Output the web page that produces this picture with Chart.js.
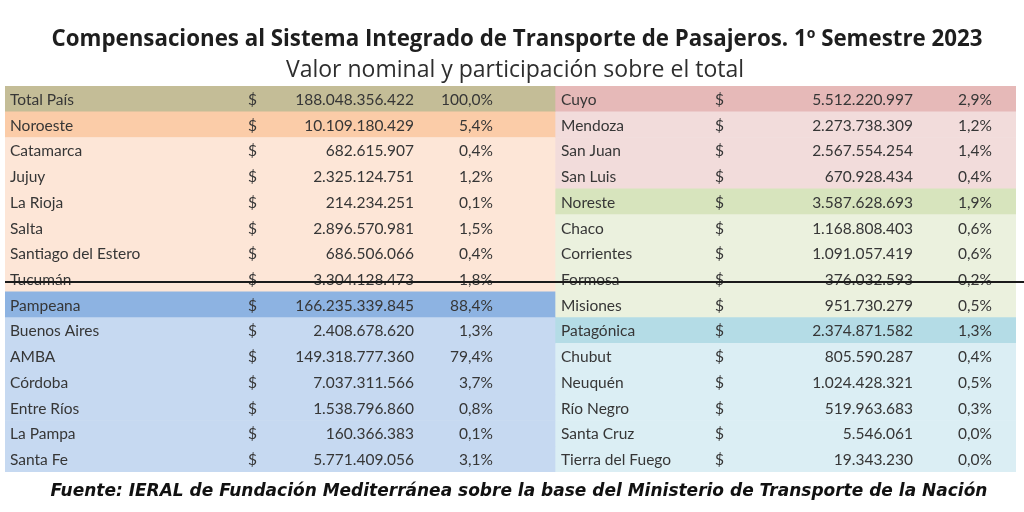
<!DOCTYPE html>
<html>
<head>
<meta charset="utf-8">
<script src="https://cdn.jsdelivr.net/npm/chart.js@4.4.0/dist/chart.umd.min.js"></script>
<style>
  html, body { margin: 0; padding: 0; background: #ffffff; }
  canvas { display: block; }
</style>
</head>
<body>
<canvas id="myChart" width="1024" height="512"></canvas>
<script>
// data
const leftNames = ["Total País", "Noroeste", "Catamarca", "Jujuy", "La Rioja", "Salta",
  "Santiago del Estero", "Tucumán", "Pampeana", "Buenos Aires", "AMBA", "Córdoba",
  "Entre Ríos", "La Pampa", "Santa Fe"];
const leftValues = [188048356422, 10109180429, 682615907, 2325124751, 214234251, 2896570981,
  686506066, 3304128473, 166235339845, 2408678620, 149318777360, 7037311566,
  1538796860, 160366383, 5771409056];
const leftShares = [100.0, 5.4, 0.4, 1.2, 0.1, 1.5, 0.4, 1.8, 88.4, 1.3, 79.4, 3.7, 0.8, 0.1, 3.1];

const rightNames = ["Cuyo", "Mendoza", "San Juan", "San Luis", "Noreste", "Chaco",
  "Corrientes", "Formosa", "Misiones", "Patagónica", "Chubut", "Neuquén", "Río Negro",
  "Santa Cruz", "Tierra del Fuego"];
const rightValues = [5512220997, 2273738309, 2567554254, 670928434, 3587628693, 1168808403,
  1091057419, 376032593, 951730279, 2374871582, 805590287, 1024428321, 519963683,
  5546061, 19343230];
const rightShares = [2.9, 1.2, 1.4, 0.4, 1.9, 0.6, 0.6, 0.2, 0.5, 1.3, 0.4, 0.5, 0.3, 0.0, 0.0];

// styles
const leftColors = ["#c4bd97", "#fbcca8", "#fde6d7", "#fde6d7", "#fde6d7", "#fde6d7",
  "#fde6d7", "#fde6d7", "#8db3e2", "#c6d9f1", "#c6d9f1", "#c6d9f1", "#c6d9f1",
  "#c6d9f1", "#c6d9f1"];
const rightColors = ["#e6b9b8", "#f2dcdb", "#f2dcdb", "#f2dcdb", "#d7e4bd", "#ebf1de",
  "#ebf1de", "#ebf1de", "#ebf1de", "#b4dce6", "#dbeef4", "#dbeef4", "#dbeef4",
  "#dbeef4", "#dbeef4"];

const TABLE_W = 1011;
const SPLIT = 550;
const leftCols = { name: 5, dollar: 243, value: 409, share: 488 };
const rightCols = { name: 556, dollar: 710, value: 908, share: 987 };
const struckRow = 7;

function fmtNum(n) {
  return String(n).replace(/\B(?=(\d{3})+(?!\d))/g, ".");
}
function fmtPct(p) {
  return p.toFixed(1).replace(".", ",") + "%";
}

const rows = leftNames.map((_, i) => i);

const tableText = {
  id: "tableText",
  afterDatasetsDraw(chart) {
    const { ctx, scales: { x, y } } = chart;
    ctx.save();
    ctx.fillStyle = "#363636";
    ctx.font = "15.5px Lato";
    ctx.textBaseline = "middle";
    const drawSide = (names, values, shares, cols) => {
      names.forEach((name, i) => {
        const py = y.getPixelForValue(i) + 1;
        ctx.textAlign = "left";
        ctx.fillText(name, x.getPixelForValue(cols.name), py);
        ctx.fillText("$", x.getPixelForValue(cols.dollar), py);
        ctx.textAlign = "right";
        ctx.fillText(fmtNum(values[i]), x.getPixelForValue(cols.value), py);
        ctx.fillText(fmtPct(shares[i]), x.getPixelForValue(cols.share), py);
      });
    };
    drawSide(leftNames, leftValues, leftShares, leftCols);
    drawSide(rightNames, rightValues, rightShares, rightCols);

    // strike line through the Tucumán / Formosa row
    const sy = y.getPixelForValue(struckRow) + 3;
    ctx.strokeStyle = "#1a1a1a";
    ctx.lineWidth = 2;
    ctx.beginPath();
    ctx.moveTo(x.getPixelForValue(0), sy);
    ctx.lineTo(chart.width, sy);
    ctx.stroke();

    // title, subtitle, source
    ctx.textAlign = "center";
    ctx.fillStyle = "#1e1e1e";
    ctx.font = "bold 22.3px 'Open Sans'";
    ctx.fillText("Compensaciones al Sistema Integrado de Transporte de Pasajeros. 1º Semestre 2023", 517, 40);
    ctx.fillStyle = "#2e2e2e";
    ctx.font = "23px 'Open Sans'";
    ctx.fillText("Valor nominal y participación sobre el total", 515, 70);
    ctx.fillStyle = "#111111";
    ctx.font = "italic bold 17px 'DejaVu Sans'";
    ctx.fillText("Fuente: IERAL de Fundación Mediterránea sobre la base del Ministerio de Transporte de la Nación", 519, 492);
    ctx.restore();
  }
};

const ctx = document.getElementById("myChart");

new Chart(ctx, {
  type: "bar",
  data: {
    labels: rows,
    datasets: [
      {
        label: "left",
        data: rows.map(() => [0, SPLIT]),
        backgroundColor: leftColors,
        borderWidth: 0,
      },
      {
        label: "right",
        data: rows.map(() => [SPLIT, TABLE_W]),
        backgroundColor: rightColors,
        borderWidth: 0,
      },
    ],
  },
  options: {
    indexAxis: "y",
    responsive: false,
    animation: false,
    devicePixelRatio: 1,
    layout: { padding: { left: 5, right: 8, top: 86, bottom: 40 } },
    datasets: {
      bar: { barPercentage: 1, categoryPercentage: 1, grouped: false },
    },
    scales: {
      x: { type: "linear", min: 0, max: TABLE_W, display: false },
      y: { type: "category", display: false, offset: true },
    },
    plugins: {
      legend: { display: false },
      tooltip: { enabled: false },
    },
  },
  plugins: [tableText],
});
</script>
</body>
</html>
